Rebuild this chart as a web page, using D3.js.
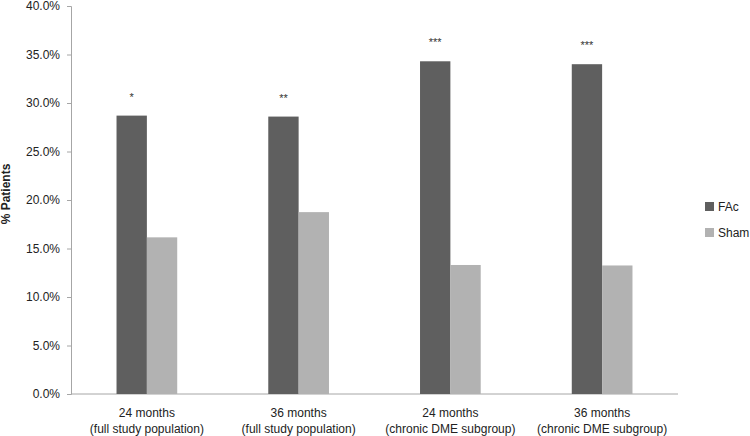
<!DOCTYPE html>
<html>
<head>
<meta charset="utf-8">
<script src="https://cdn.jsdelivr.net/npm/d3@7"></script>
<style>
  html, body { margin: 0; padding: 0; background: #fff; }
  svg { display: block; font-family: "Liberation Sans", Arial, sans-serif; }
</style>
</head>
<body>
<svg id="chart" width="750" height="436"></svg>
<script>
const categories = [
  ["24 months", "(full study population)"],
  ["36 months", "(full study population)"],
  ["24 months", "(chronic DME subgroup)"],
  ["36 months", "(chronic DME subgroup)"]
];
const seriesNames = ["FAc", "Sham"];
const facValues = [28.7, 28.6, 34.3, 34.0];
const shamValues = [16.15, 18.75, 13.3, 13.25];
const significance = ["*", "**", "***", "***"];
const yTicks = [0, 5, 10, 15, 20, 25, 30, 35, 40];
const colors = ["#5f5f5f", "#b2b2b2"];

const svg = d3.select("#chart");
const margin = { left: 71, right: 72, top: 6, bottom: 42 };
const W = 750, H = 436;

const x = d3.scaleBand()
  .domain(d3.range(categories.length))
  .range([margin.left, W - margin.right])
  .paddingInner(0.6).paddingOuter(0.3);
const x1 = d3.scaleBand().domain(seriesNames).range([0, x.bandwidth()]);
const y = d3.scaleLinear().domain([0, 40]).range([H - margin.bottom, margin.top]);

// y axis
const yAxis = d3.axisLeft(y).tickValues(yTicks).tickSize(4).tickPadding(7)
  .tickFormat(d => d.toFixed(1) + "%");
const gy = svg.append("g").attr("transform", `translate(${margin.left},0)`).call(yAxis);
gy.select(".domain").attr("stroke", "#a6a6a6");
gy.selectAll(".tick line").attr("stroke", "#a6a6a6");
gy.selectAll(".tick text").attr("font-size", 12).attr("fill", "#222")
  .attr("font-family", "Liberation Sans, Arial, sans-serif");

// x axis line
svg.append("line")
  .attr("x1", margin.left).attr("x2", W - margin.right)
  .attr("y1", y(0)).attr("y2", y(0))
  .attr("stroke", "#a6a6a6");

// bars
const data = categories.map((c, i) => ({ i, vals: [facValues[i], shamValues[i]] }));
const groups = svg.append("g").selectAll("g").data(data).join("g")
  .attr("transform", d => `translate(${x(d.i)},0)`);
groups.selectAll("rect").data(d => d.vals.map((v, k) => ({ v, k })))
  .join("rect")
  .attr("x", d => x1(seriesNames[d.k]))
  .attr("width", x1.bandwidth())
  .attr("y", d => y(d.v))
  .attr("height", d => y(0) - y(d.v))
  .attr("fill", d => colors[d.k]);

// significance stars
groups.append("text")
  .attr("x", x1("FAc") + x1.bandwidth() / 2)
  .attr("y", d => y(facValues[d.i]) - 15)
  .attr("text-anchor", "middle")
  .attr("font-size", 11)
  .attr("fill", "#333")
  .text(d => significance[d.i]);

// x labels
const xl = svg.append("g").selectAll("text").data(categories).join("text")
  .attr("x", (d, i) => x(i) + x.bandwidth() / 2)
  .attr("y", 417)
  .attr("text-anchor", "middle")
  .attr("font-size", 12)
  .attr("fill", "#222");
xl.append("tspan").text(d => d[0]);
xl.append("tspan").attr("x", (d, i) => x(i) + x.bandwidth() / 2).attr("dy", 16).text(d => d[1]);

// y title
svg.append("text")
  .attr("transform", `translate(10,${(y(0) + y(40)) / 2 - 6}) rotate(-90)`)
  .attr("text-anchor", "middle")
  .attr("font-size", 12)
  .attr("font-weight", "bold")
  .attr("fill", "#222")
  .text("% Patients");

// legend
const lg = svg.append("g").selectAll("g").data(seriesNames).join("g")
  .attr("transform", (d, i) => `translate(705,${202 + i * 26})`);
lg.append("rect").attr("width", 9).attr("height", 9).attr("fill", (d, i) => colors[i]);
lg.append("text").attr("x", 13).attr("y", 9).attr("font-size", 12).attr("fill", "#222").text(d => d);
</script>
</body>
</html>
